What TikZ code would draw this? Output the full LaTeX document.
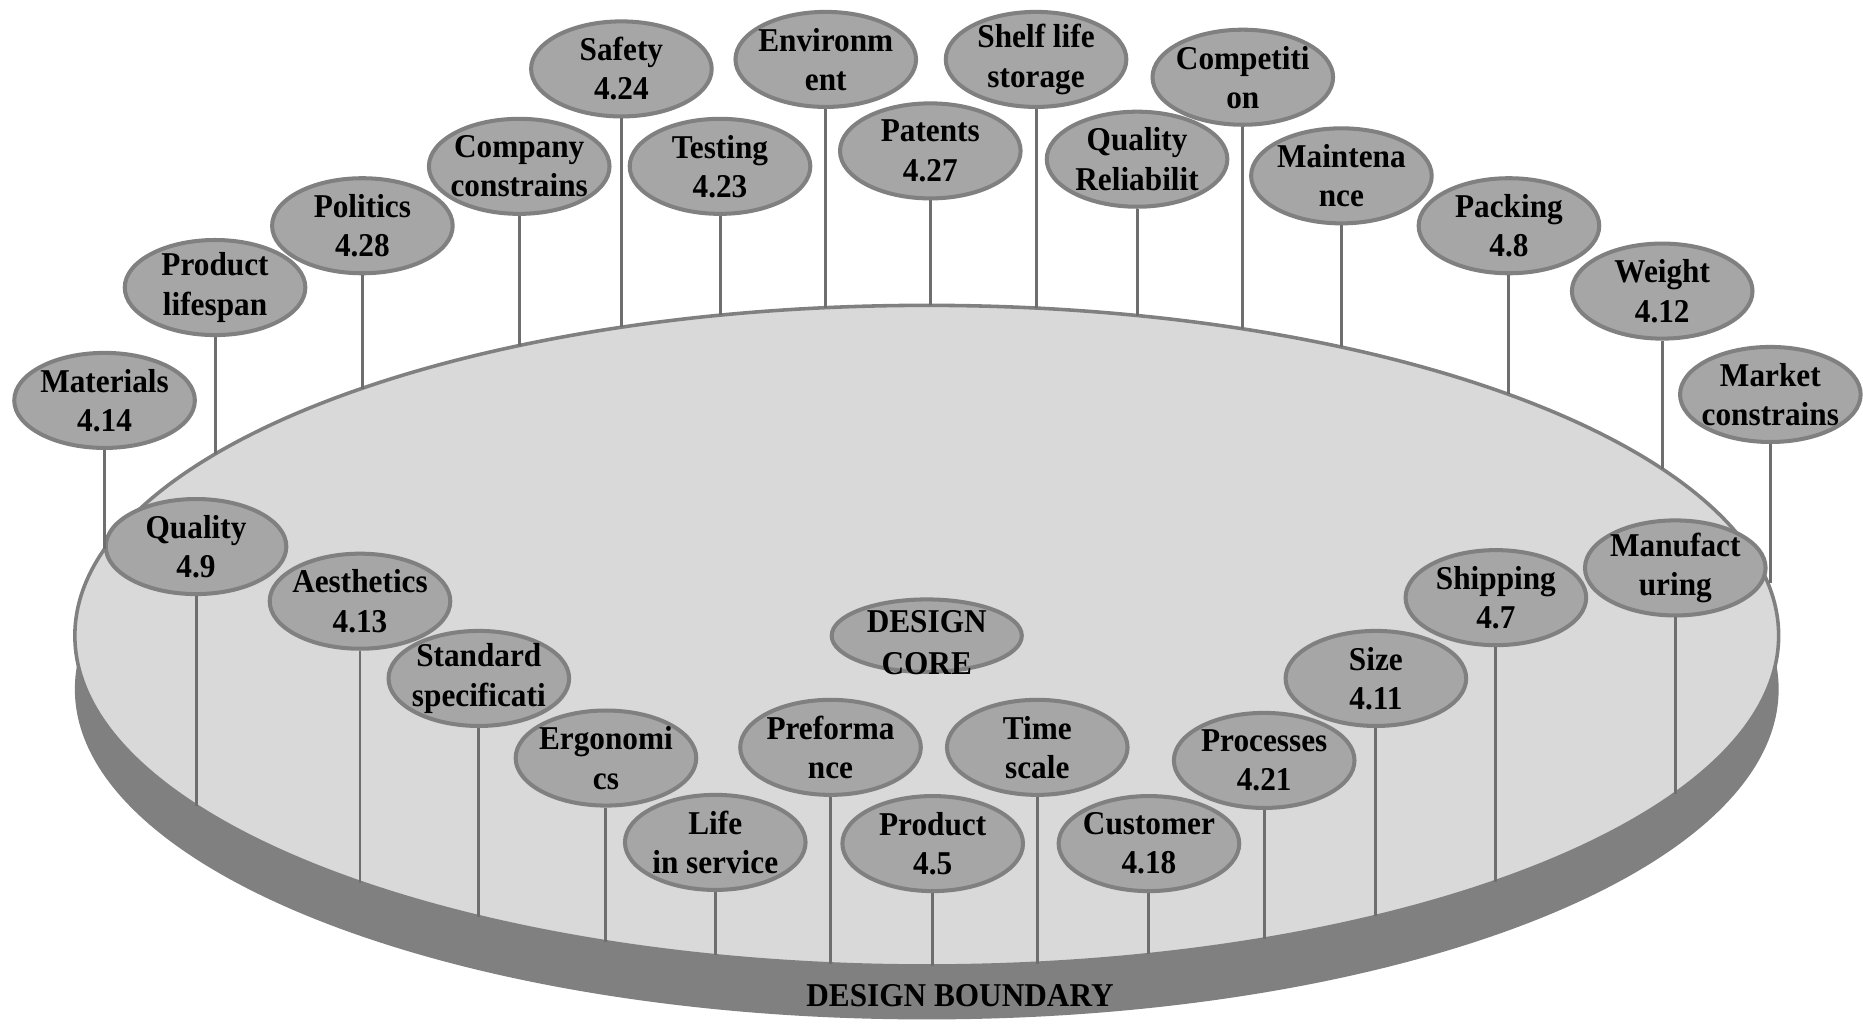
\documentclass[tikz,border=0pt]{standalone}
\usepackage{fontspec}
\setmainfont{Liberation Serif}[FakeStretch=0.94]
\usetikzlibrary{shapes.geometric}
\definecolor{bubfill}{HTML}{A6A6A6}
\definecolor{bubline}{HTML}{808080}
\definecolor{diskfill}{HTML}{D9D9D9}
\definecolor{diskshade}{HTML}{808080}
\definecolor{stemline}{HTML}{6E6E6E}

\begin{document}
\begin{tikzpicture}[x=1pt, y=-1pt, font=\fontsize{28}{33}\selectfont\bfseries,
    bubble/.style={ellipse, draw=bubline, line width=3.4pt, fill=bubfill,
                   minimum width=152pt, minimum height=80pt, inner sep=-15pt, align=center},
    stem/.style={draw=stemline, line width=2.5pt}]
  \useasboundingbox (0,0) rectangle (1568,862);
  \fill[diskshade] (780,580) ellipse [x radius=717pt, y radius=278pt];
  \filldraw[fill=diskfill, draw=bubline, line width=3pt] (780,535) ellipse [x radius=717pt, y radius=278pt];
  \node (bound) at (808,838) {DESIGN BOUNDARY};
  \node[bubble, minimum width=160pt, minimum height=61pt] (core) at (780,535) {};
  \node[align=center, font=\fontsize{28}{35}\selectfont\bfseries] (coretext) at (780,541) {DESIGN\\CORE};

  % outer ring
  \node[bubble] (mat) at (88,337) {Materials\\4.14};
  \node[bubble] (plife) at (181,242) {Product\\lifespan};
  \node[bubble] (pol) at (305,190) {Politics\\4.28};
  \node[bubble] (saf) at (523,58) {Safety\\4.24};
  \node[bubble] (comp) at (437,140) {Company\\constrains};
  \node[bubble] (test) at (606,140) {Testing\\4.23};
  \node[bubble] (env) at (695,50) {Environm\\ent};
  \node[bubble] (pat) at (783,127) {Patents\\4.27};
  \node[bubble] (shelf) at (872,50) {Shelf life\\storage};
  \node[bubble] (qrel) at (957,134) {Quality\\Reliabilit};
  \node[bubble] (compet) at (1046,65) {Competiti\\on};
  \node[bubble] (maint) at (1129,148) {Maintena\\nce};
  \node[bubble] (pack) at (1270,190) {Packing\\4.8};
  \node[bubble] (wt) at (1399,245) {Weight\\4.12};
  \node[bubble] (mkt) at (1490,332) {Market\\constrains};

  % inner ring
  \node[bubble] (qual) at (165,460) {Quality\\4.9};
  \node[bubble] (aes) at (303,506) {Aesthetics\\4.13};
  \node[bubble] (std) at (403,571) {Standard\\specificati};
  \node[bubble] (ergo) at (510,638) {Ergonomi\\cs};
  \node[bubble] (perf) at (699,629) {Preforma\\nce};
  \node[bubble] (life) at (602,709) {Life\\in service};
  \node[bubble] (time) at (873,629) {Time\\scale};
  \node[bubble] (prod) at (785,710) {Product\\4.5};
  \node[bubble] (cust) at (967,710) {Customer\\4.18};
  \node[bubble] (ship) at (1259,503) {Shipping\\4.7};
  \node[bubble] (size) at (1158,571) {Size\\4.11};
  \node[bubble] (proc) at (1064,640) {Processes\\4.21};
  \node[bubble] (manu) at (1410,478) {Manufact\\uring};

  % stem ends on the rim
  \coordinate (mat-e) at (88,462);
  \coordinate (plife-e) at (181,382);
  \coordinate (pol-e) at (305,327);
  \coordinate (comp-e) at (437,291);
  \coordinate (saf-e) at (523,275);
  \coordinate (test-e) at (606,265);
  \coordinate (env-e) at (695,259);
  \coordinate (pat-e) at (783,257);
  \coordinate (shelf-e) at (872,259);
  \coordinate (qrel-e) at (957,266);
  \coordinate (compet-e) at (1046,277);
  \coordinate (maint-e) at (1129,292);
  \coordinate (pack-e) at (1270,332);
  \coordinate (wt-e) at (1399,395);
  \coordinate (mkt-e) at (1490,491);
  \coordinate (qual-e) at (165,678);
  \coordinate (aes-e) at (303,743);
  \coordinate (std-e) at (403,772);
  \coordinate (ergo-e) at (510,793);
  \coordinate (life-e) at (602,804);
  \coordinate (perf-e) at (699,811);
  \coordinate (prod-e) at (785,813);
  \coordinate (time-e) at (873,811);
  \coordinate (cust-e) at (967,803);
  \coordinate (proc-e) at (1064,790);
  \coordinate (size-e) at (1158,771);
  \coordinate (ship-e) at (1259,742);
  \coordinate (manu-e) at (1410,668);

  \draw[stem] (mat.south) -- (mat-e);
  \draw[stem] (plife.south) -- (plife-e);
  \draw[stem] (pol.south) -- (pol-e);
  \draw[stem] (comp.south) -- (comp-e);
  \draw[stem] (saf.south) -- (saf-e);
  \draw[stem] (test.south) -- (test-e);
  \draw[stem] (env.south) -- (env-e);
  \draw[stem] (pat.south) -- (pat-e);
  \draw[stem] (shelf.south) -- (shelf-e);
  \draw[stem] (qrel.south) -- (qrel-e);
  \draw[stem] (compet.south) -- (compet-e);
  \draw[stem] (maint.south) -- (maint-e);
  \draw[stem] (pack.south) -- (pack-e);
  \draw[stem] (wt.south) -- (wt-e);
  \draw[stem] (mkt.south) -- (mkt-e);
  \draw[stem] (qual.south) -- (qual-e);
  \draw[stem] (aes.south) -- (aes-e);
  \draw[stem] (std.south) -- (std-e);
  \draw[stem] (ergo.south) -- (ergo-e);
  \draw[stem] (life.south) -- (life-e);
  \draw[stem] (perf.south) -- (perf-e);
  \draw[stem] (prod.south) -- (prod-e);
  \draw[stem] (time.south) -- (time-e);
  \draw[stem] (cust.south) -- (cust-e);
  \draw[stem] (proc.south) -- (proc-e);
  \draw[stem] (size.south) -- (size-e);
  \draw[stem] (ship.south) -- (ship-e);
  \draw[stem] (manu.south) -- (manu-e);
\end{tikzpicture}
\end{document}
